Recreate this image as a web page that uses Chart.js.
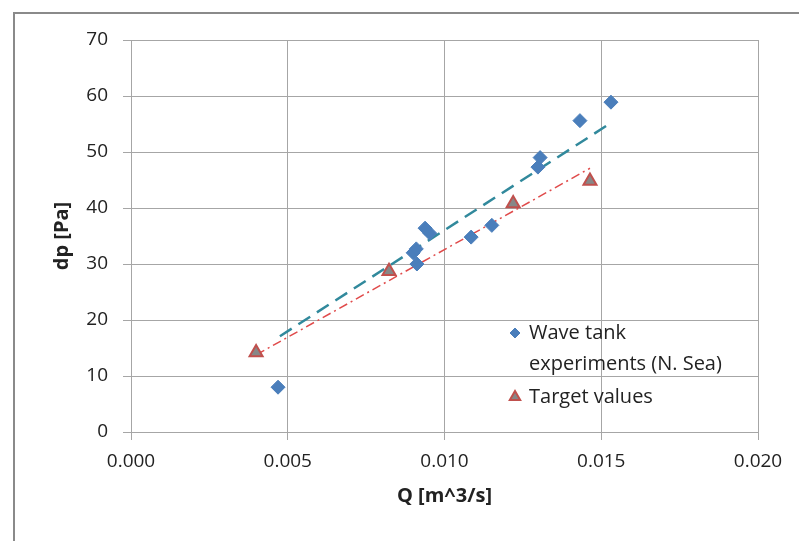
<!DOCTYPE html>
<html>
<head>
<meta charset="utf-8">
<script src="https://cdn.jsdelivr.net/npm/chart.js@4.4.1/dist/chart.umd.min.js"></script>
<style>
  html, body { margin: 0; padding: 0; background: #fff; }
  canvas { display: block; }
</style>
</head>
<body>
<canvas id="chart" width="799" height="541"></canvas>
<script>
// values
const waveQ  = [0.00469, 0.00900, 0.00910, 0.00912, 0.00938, 0.00953, 0.01085, 0.01151, 0.01298, 0.01305, 0.01432, 0.01531];
const waveDp = [8.0, 32.0, 32.7, 30.0, 36.4, 35.5, 34.8, 36.9, 47.3, 49.0, 55.6, 58.9];
const targetQ  = [0.00399, 0.00823, 0.01219, 0.01464];
const targetDp = [14.2, 28.7, 40.8, 44.8];
// trendline end points, as drawn in the picture
const waveTrendQ  = [0.00475, 0.01531];
const waveTrendDp = [17.1, 55.2];
const targetTrendQ  = [0.00400, 0.01464];
const targetTrendDp = [13.8, 47.1];
const xTicks = [0, 0.005, 0.010, 0.015, 0.020];
const yTicks = [0, 10, 20, 30, 40, 50, 60, 70];

const FONT = '"Open Sans", Lato, sans-serif';
const GRID = '#a6a6a6';
const TEXT = '#222';

const toPoints = (xs, ys) => xs.map((x, i) => ({ x: x, y: ys[i] }));

// outer frame of the chart (runs off the right and bottom edges)
const framePlugin = {
    id: 'frame',
    beforeDraw(chart) {
        const ctx = chart.ctx;
        ctx.save();
        ctx.fillStyle = '#fff';
        ctx.fillRect(0, 0, chart.width, chart.height);
        ctx.strokeStyle = '#8a8a8a';
        ctx.lineWidth = 2;
        ctx.strokeRect(14, 13, 820, 560);
        ctx.restore();
    }
};

// legend placed inside the plot area, no box, text wraps on two lines
const legendPlugin = {
    id: 'insideLegend',
    afterDraw(chart) {
        const ctx = chart.ctx;
        const items = [
            { ds: chart.data.datasets[0], lines: ['Wave tank', 'experiments (N. Sea)'], y: 333 },
            { ds: chart.data.datasets[1], lines: ['Target values'], y: 397 }
        ];
        ctx.save();
        ctx.font = '20px ' + FONT;
        ctx.textBaseline = 'middle';
        items.forEach(item => {
            ctx.fillStyle = item.ds.backgroundColor;
            ctx.strokeStyle = item.ds.borderColor;
            ctx.lineWidth = item.ds.borderWidth;
            Chart.helpers.drawPoint(ctx, {
                pointStyle: item.ds.pointStyle,
                radius: item.ds.pointStyle === 'triangle' ? 6 : 5,
                borderWidth: item.ds.borderWidth
            }, 515, item.y);
            ctx.fillStyle = TEXT;
            item.lines.forEach((t, i) => ctx.fillText(t, 529, item.y + i * 31));
        });
        ctx.restore();
    }
};

new Chart(document.getElementById('chart'), {
    type: 'scatter',
    data: {
        datasets: [
            {
                label: 'Wave tank experiments (N. Sea)',
                data: toPoints(waveQ, waveDp),
                pointStyle: 'rectRot',
                pointRadius: 7,
                backgroundColor: '#4a7ebb',
                borderColor: '#4a7ebb',
                borderWidth: 1
            },
            {
                label: 'Target values',
                data: toPoints(targetQ, targetDp),
                pointStyle: 'triangle',
                pointRadius: 7.5,
                backgroundColor: '#878787',
                borderColor: '#c0504d',
                borderWidth: 2
            },
            {
                label: 'wave trend',
                data: toPoints(waveTrendQ, waveTrendDp),
                showLine: true,
                pointRadius: 0,
                borderColor: '#31899c',
                borderWidth: 2.5,
                borderDash: [14, 8]
            },
            {
                label: 'target trend',
                data: toPoints(targetTrendQ, targetTrendDp),
                showLine: true,
                pointRadius: 0,
                borderColor: '#e04a4a',
                borderWidth: 1.5,
                borderDash: [9, 4, 2, 4]
            }
        ]
    },
    options: {
        responsive: false,
        animation: false,
        layout: { padding: { top: 40, right: 41, left: 0, bottom: 0 } },
        plugins: { legend: { display: false }, tooltip: { enabled: false } },
        scales: {
            x: {
                type: 'linear',
                min: 0,
                max: 0.02,
                afterBuildTicks: s => { s.ticks = xTicks.map(v => ({ value: v })); },
                afterFit: s => { s.height = 109; },
                grid: { color: GRID, tickColor: GRID, tickLength: 8 },
                border: { color: GRID },
                ticks: { font: { family: FONT, size: 19 }, color: TEXT, padding: 10, maxRotation: 0,
                         callback: v => v.toFixed(3) },
                title: { display: true, text: 'Q [m^3/s]', color: TEXT,
                         font: { family: FONT, size: 20, weight: 'bold' }, padding: { top: 0, bottom: 33 } }
            },
            y: {
                min: 0,
                max: 70,
                afterBuildTicks: s => { s.ticks = yTicks.map(v => ({ value: v })); },
                afterFit: s => { s.width = 131; },
                grid: { color: GRID, tickColor: GRID, tickLength: 8 },
                border: { color: GRID },
                ticks: { font: { family: FONT, size: 19 }, color: TEXT, padding: 15 },
                title: { display: true, text: 'dp [Pa]', color: TEXT,
                         font: { family: FONT, size: 20, weight: 'bold' }, padding: { top: 50, bottom: 0 } }
            }
        }
    },
    plugins: [framePlugin, legendPlugin]
});
</script>
</body>
</html>
